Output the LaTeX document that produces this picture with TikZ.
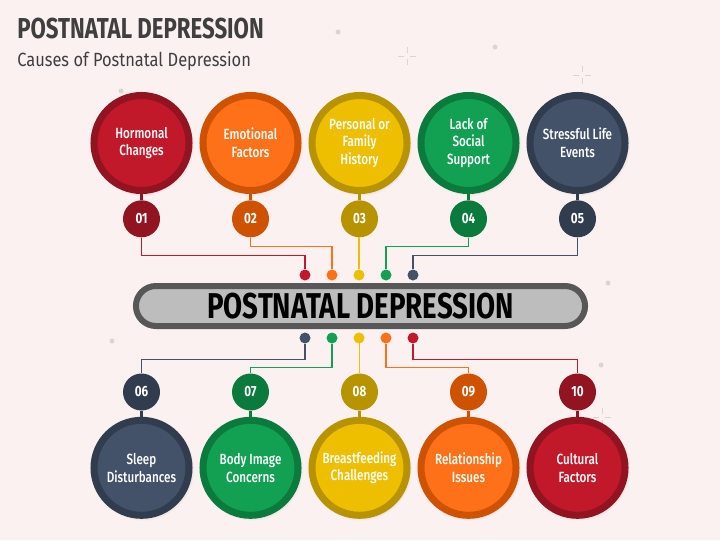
\documentclass[tikz,border=0pt]{standalone}
\usepackage{fontspec}
\setmainfont{Fira Sans}[FakeStretch=0.79,UprightFont=* Medium,BoldFont=* Bold]
\newfontfamily\subfont{Fira Sans}[FakeStretch=0.86]
\newfontfamily\headfont{Fira Sans}[FakeStretch=0.77]
\usetikzlibrary{positioning,shadows}
\definecolor{bgPink}{HTML}{FCF1F1}
\definecolor{inkGray}{HTML}{3F3F3F}
\definecolor{specky}{HTML}{DCD3D3}
\definecolor{barFill}{HTML}{BDBDBD}
\definecolor{barEdge}{HTML}{575757}
\definecolor{redIn}{HTML}{C1182A}
\definecolor{redOut}{HTML}{921420}
\definecolor{orangeIn}{HTML}{FF7118}
\definecolor{orangeOut}{HTML}{CF5200}
\definecolor{yellowIn}{HTML}{EEBE00}
\definecolor{yellowOut}{HTML}{B79300}
\definecolor{greenIn}{HTML}{12A053}
\definecolor{greenOut}{HTML}{0B7A3D}
\definecolor{navyIn}{HTML}{435269}
\definecolor{navyOut}{HTML}{313D4F}
\begin{document}
\begin{tikzpicture}[x=0.025cm,y=-0.025cm,
    cause/.style={circle,draw=#1Out,fill=#1In,line width=0.175cm,minimum size=2.375cm,inner sep=0pt,
      text=white,align=center,font=\fontsize{10.5}{12.5}\selectfont,
      circular drop shadow={shadow xshift=0.6pt,shadow yshift=-0.8pt,shadow scale=1.09,opacity=0.3}},
    num/.style={circle,fill=#1Out,minimum size=0.925cm,inner sep=0pt,text=white,font=\bfseries\fontsize{10.5}{12}\selectfont},
    neck/.style={draw=#1Out,line width=2pt},
    pin/.style={circle,fill=#1In,minimum size=0.275cm,inner sep=0pt},
    wire/.style={draw=#1In,line width=0.8pt},
    bar/.style={draw=barEdge,fill=barFill,line width=0.15cm,rounded corners=0.5cm,minimum width=11.225cm,
      minimum height=1cm,inner sep=0pt,font=\headfont\bfseries\fontsize{25.5}{30}\selectfont},
    speck/.style={fill=specky},
    sparkle/.style={draw=specky,line width=0.7pt}]
    %% Background
    \fill[bgPink] (0,0) rectangle (720,540);
    \useasboundingbox (0,0) rectangle (720,540);
    \foreach \p in {(338,32),(121,91),(495,47),(608,283),(112,341),(601,365)}
        \fill[speck] \p circle (2.5);
    \foreach \p in {(407,56),(582,75),(602,417)}
        \draw[sparkle] \p ++(3,0) -- ++(6,0) \p ++(-3,0) -- ++(-6,0) \p ++(0,3) -- ++(0,6) \p ++(0,-3) -- ++(0,-6);
    %% Title
    \node[anchor=base west,inner sep=0pt,text=inkGray,font=\headfont\bfseries\fontsize{20.5}{24}\selectfont] (title) at (17,38) {POSTNATAL DEPRESSION};
    \node[anchor=base west,inner sep=0pt,text=inkGray,font=\subfont\fontsize{13.6}{16}\selectfont] (subtitle) at (17,66) {Causes of Postnatal Depression};
    %% Centre bar
    \node[bar] (core) at (360.5,306) {POSTNATAL DEPRESSION};
    %% Upper causes
    \foreach \c/\txt/\drop [count=\i] in {red/{Hormonal\\Changes}/18,orange/{Emotional\\Factors}/9,
        yellow/{Personal or\\Family\\History}/0,green/{Lack of\\Social\\Support}/9,navy/{Stressful Life\\Events}/18}{
        \node[cause=\c] (cause\i) at ({141.5+109*(\i-1)},143) {\txt};
        \node[num=\c,below=0.15cm of cause\i] (num\i) {0\i};
        \node[pin=\c] (pin\i) at ({305+27*(\i-1)},275) {};
        \draw[neck=\c] (cause\i) -- (num\i);
        \draw[wire=\c] (num\i.south) -- ++(0,\drop) -| (pin\i.north);
    }
    %% Lower causes
    \foreach \c/\txt/\drop [count=\i from 6] in {navy/{Sleep\\Disturbances}/16,green/{Body Image\\Concerns}/24,
        yellow/{Breastfeeding\\Challenges}/0,orange/{Relationship\\Issues}/24,red/{Cultural\\Factors}/16}{
        \node[num=\c] (num\i) at ({141.5+109*(\i-6)},392) {\ifnum\i<10 0\fi\i};
        \node[cause=\c,below=0.15cm of num\i] (cause\i) {\txt};
        \node[pin=\c] (pin\i) at ({305+27*(\i-6)},338) {};
        \draw[neck=\c] (num\i) -- (cause\i);
        \draw[wire=\c] (pin\i.south) -- ++(0,\drop) -| (num\i.north);
    }
\end{tikzpicture}
\end{document}
